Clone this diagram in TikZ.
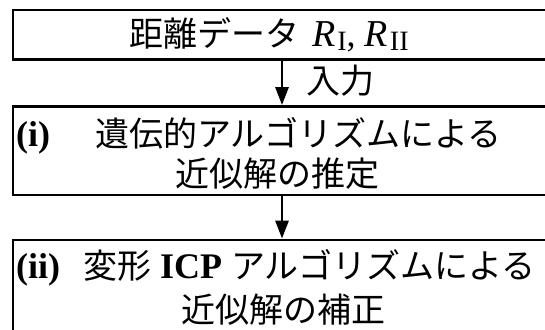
\documentclass[tikz,border=0pt]{standalone}
\usepackage{fontspec}
\setmainfont{Liberation Serif}
\newfontfamily\jp{Noto Sans CJK JP}
\usetikzlibrary{arrows.meta}
\newcommand{\subI}[1]{\kern2pt\raisebox{-3pt}{\fontsize{28}{28}\selectfont #1}}
\begin{document}
\begin{tikzpicture}[x=1pt,y=-1pt,
  box/.style={draw,line width=2.8pt,inner sep=0pt,minimum width=538pt},
  txt/.style={inner sep=0pt,font=\fontsize{36}{40}\selectfont},
  jtxt/.style={inner sep=0pt,font=\fontsize{34}{40}\selectfont\jp},
  flow/.style={line width=2.8pt,-{Triangle[length=18pt,width=13pt]}}]
\useasboundingbox (0,0) rectangle (545,329);
\clip (0,0) rectangle (545,329);
\node[box,minimum height=49.5pt] (b1) at (282,34.75) {};
\node[box,minimum height=88.5pt] (b2) at (282,150.75) {};
\node[box,minimum height=140pt] (b3) at (282,310) {};
% box 1 text
\node[txt,anchor=base west] (t1) at (129,47) {{\jp\fontsize{34}{40}\selectfont 距離データ}\hspace{13pt}{\fontsize{38}{40}\selectfont\textit{R}}\subI{I}, {\fontsize{38}{40}\selectfont\textit{R}}\subI{II}};
% box 2 text
\node[txt,anchor=base west] (t2n) at (16,146) {\textbf{(i)}};
\node[jtxt,anchor=base west] (t2a) at (95,146) {遺伝的アルゴリズムによる};
\node[jtxt,anchor=base] (t2b) at (277,186) {近似解の推定};
% box 3 text
\node[txt,anchor=base west] (t3n) at (16,278) {\textbf{(ii)}};
\node[txt,anchor=base west] (t3a) at (83,278) {{\jp\fontsize{34}{40}\selectfont 変形} \textbf{ICP} {\jp\fontsize{34}{40}\selectfont アルゴリズムによる}};
\node[jtxt,anchor=base] (t3b) at (283,322) {近似解の補正};
% arrows
\draw[flow] (b1.south) -- (b2.north);
\draw[flow] (b2.south) -- (b3.north);
\node[jtxt,anchor=base west] (in) at (306,93) {入力};
\end{tikzpicture}
\end{document}
